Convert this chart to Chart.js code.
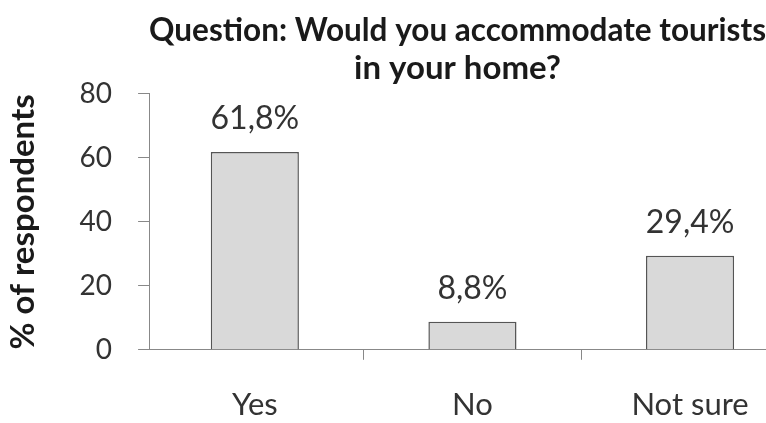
<!DOCTYPE html>
<html>
<head>
<meta charset="utf-8">
<script src="https://cdn.jsdelivr.net/npm/chart.js@4/dist/chart.umd.min.js"></script>
<style>
  html, body { margin: 0; padding: 0; background: #fff; overflow: hidden; }
  #wrap { width: 766px; height: 423px; }
</style>
</head>
<body>
<div id="wrap"><canvas id="bar-chart"></canvas></div>
<script>
const categories = ['Yes', 'No', 'Not sure']
const respondents = [61.8, 8.8, 29.4]
const yTicks = [0, 20, 40, 60, 80]

const FONT = 'Lato, "Open Sans", sans-serif'
Chart.defaults.font.family = FONT
Chart.defaults.color = '#333'

// writes "61,8%" above each bar
const valueLabels = {
  id: 'valueLabels',
  afterDatasetsDraw (chart) {
    const ctx = chart.ctx
    ctx.save()
    ctx.font = '32px ' + FONT
    ctx.fillStyle = '#333'
    ctx.textAlign = 'center'
    ctx.textBaseline = 'alphabetic'
    chart.getDatasetMeta(0).data.forEach((bar, i) => {
      const txt = respondents[i].toFixed(1).replace('.', ',') + '%'
      ctx.fillText(txt, bar.x, bar.y - 23)
    })
    ctx.restore()
  }
}

const ctx = document.getElementById('bar-chart')

new Chart(ctx, {
  type: 'bar',
  data: {
    datasets: [{
      label: 'Respondents',
      data: respondents.map((v, i) => ({ x: i, y: v })),
      backgroundColor: '#d9d9d9',
      borderColor: '#555',
      borderWidth: 1.5,
      categoryPercentage: 1,
      barPercentage: 0.405
    }]
  },
  options: {
    responsive: true,
    maintainAspectRatio: false,
    animation: false,
    layout: { padding: { left: 4, right: 0, top: 0, bottom: 2 } },
    plugins: {
      legend: { display: false },
      tooltip: { enabled: false },
      title: {
        display: true,
        fullSize: false,
        text: ['Question: Would you accommodate tourists', 'in your home?'],
        color: '#1a1a1a',
        font: { size: 33, weight: 'bold', lineHeight: 1.15 },
        padding: { top: 11, bottom: 7 }
      }
    },
    scales: {
      x: {
        type: 'linear',
        offset: false,
        min: -0.486,
        max: 2.349,
        afterBuildTicks: (scale) => {
          scale.ticks = categories.map((c, i) => ({ value: i }))
        },
        // chart.js reserves the tick padding twice, give the extra back
        afterFit: (scale) => {
          scale.height -= 30
          scale.paddingLeft = 0
          scale.paddingRight = 0
        },
        ticks: {
          callback: (v) => categories[v],
          font: { size: 31 },
          color: '#333',
          padding: 27,
          maxRotation: 0
        },
        grid: {
          offset: true,
          drawOnChartArea: false,
          drawTicks: true,
          tickLength: 10,
          color: '#888'
        },
        border: { color: '#888', width: 1 }
      },
      y: {
        min: 0,
        max: 80,
        afterBuildTicks: (scale) => {
          scale.ticks = yTicks.map(v => ({ value: v }))
        },
        ticks: {
          font: { size: 28 },
          color: '#333',
          padding: 26
        },
        grid: {
          drawOnChartArea: false,
          drawTicks: true,
          tickLength: 11,
          color: '#888'
        },
        border: { color: '#888', width: 1 },
        title: {
          display: true,
          text: '% of respondents',
          color: '#1a1a1a',
          font: { size: 33, weight: 'bold' },
          padding: { top: 0, bottom: 10 }
        }
      }
    }
  },
  plugins: [valueLabels]
})
</script>
</body>
</html>
